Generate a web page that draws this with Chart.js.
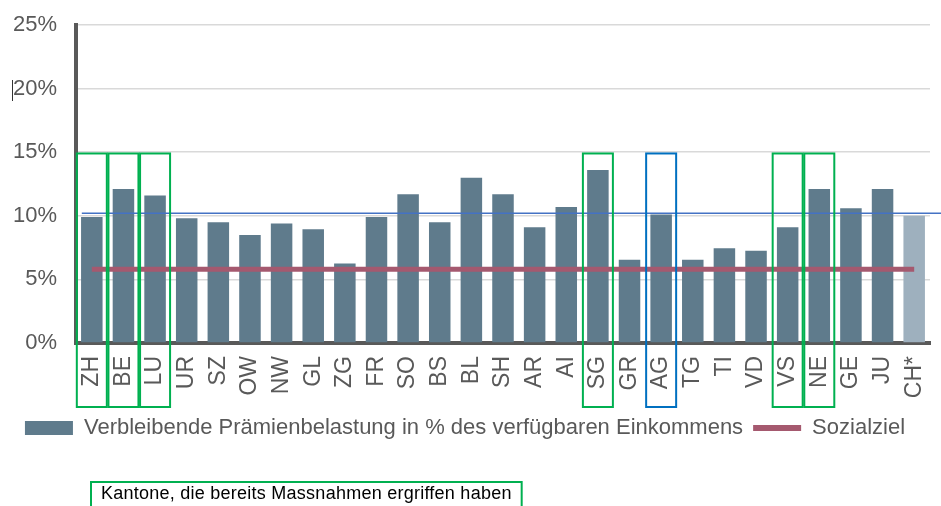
<!DOCTYPE html>
<html>
<head>
<meta charset="utf-8">
<script src="https://cdn.jsdelivr.net/npm/chart.js@4.4.0/dist/chart.umd.min.js"></script>
<style>
  html, body { margin: 0; padding: 0; background: #fff; }
  #wrap { width: 941px; height: 506px; }
</style>
</head>
<body>
<div id="wrap"><canvas id="bar-chart"></canvas></div>
<script>
// Kantone wie in der Grafik, CH* = Schweiz
const cantons = ['ZH','BE','LU','UR','SZ','OW','NW','GL','ZG','FR','SO','BS','BL','SH','AR','AI','SG','GR','AG','TG','TI','VD','VS','NE','GE','JU','CH*'];
// verbleibende Praemienbelastung in %
const burden = [9.9,12.1,11.6,9.8,9.5,8.5,9.4,8.95,6.25,9.9,11.7,9.5,13.0,11.7,9.1,10.7,13.6,6.55,10.1,6.55,7.45,7.25,9.1,12.1,10.6,12.1,10.0];
const socialGoal = 5.8;      // Sozialziel
const agLevel = 10.2;        // blaue Linie (Niveau AG)
const boxTop = 14.9;         // Oberkante der Markierungen
const yMax = 25;
const yStep = 5;
const greenBoxes = ['ZH','BE','LU','SG','VS','NE'];
const blueBoxes = ['AG'];
const legendBar = 'Verbleibende Prämienbelastung in % des verfügbaren Einkommens';
const legendLine = 'Sozialziel';
const noteText = 'Kantone, die bereits Massnahmen ergriffen haben';

const FONT = "Arial, 'Liberation Sans', sans-serif";
const GREY = '#595959';

var barColors = [];
for(i = 0; i < cantons.length; i++){
    barColors.push(cantons[i] == 'CH*' ? '#9eb0be' : '#5f7b8c');
}

const marks = {
    id: 'marks',
    afterDatasetsDraw(chart){
        const ctx = chart.ctx;
        const x = chart.scales.x;
        const y = chart.scales.y;
        ctx.save();
        // blue line, runs out to the right edge
        const ly = y.getPixelForValue(agLevel);
        ctx.strokeStyle = '#4472c4';
        ctx.lineWidth = 1.6;
        ctx.beginPath();
        ctx.moveTo(x.getPixelForValue(0) - 10, ly);
        ctx.lineTo(chart.width, ly);
        ctx.stroke();

        const top = y.getPixelForValue(boxTop);
        const bottom = chart.chartArea.bottom + 64;
        function box(name, color){
            const cx = x.getPixelForValue(cantons.indexOf(name));
            ctx.strokeStyle = color;
            ctx.lineWidth = 2;
            ctx.strokeRect(cx - 15, top, 30, bottom - top);
        }
        greenBoxes.forEach(n => box(n, '#00b050'));
        blueBoxes.forEach(n => box(n, '#0070c0'));
        ctx.restore();
    },
    afterDraw(chart){
        const ctx = chart.ctx;
        ctx.save();
        // note box below the legend
        ctx.font = '18px ' + FONT;
        ctx.letterSpacing = '0.25px';
        const w = ctx.measureText(noteText).width;
        ctx.strokeStyle = '#00b050';
        ctx.lineWidth = 2;
        ctx.strokeRect(91, 482, w + 20, 30);
        ctx.fillStyle = '#000';
        ctx.textBaseline = 'middle';
        ctx.fillText(noteText, 101, 494);
        // little cursor mark next to 20%
        ctx.strokeStyle = '#333';
        ctx.lineWidth = 1;
        ctx.beginPath();
        ctx.moveTo(12.5, 80);
        ctx.lineTo(12.5, 101);
        ctx.stroke();
        ctx.restore();
    }
};

new Chart(document.getElementById('bar-chart'), {
    type: 'bar',
    data: {
        labels: cantons,
        datasets: [
            {
                type: 'bar',
                label: legendBar,
                data: burden,
                backgroundColor: barColors,
                categoryPercentage: 1,
                barPercentage: 0.68,
                order: 1
            },
            {
                type: 'line',
                label: legendLine,
                data: cantons.map(() => socialGoal),
                borderColor: '#a5596f',
                backgroundColor: '#a5596f',
                borderWidth: 5,
                pointRadius: 0,
                pointStyle: 'line',
                order: 0
            }
        ]
    },
    options: {
        responsive: true,
        maintainAspectRatio: false,
        animation: false,
        layout: { padding: { left: 0, right: 11, top: 25, bottom: 57 } },
        scales: {
            x: {
                grid: { display: false, drawTicks: false },
                border: { color: GREY, width: 4 },
                ticks: {
                    color: GREY,
                    font: { family: FONT, size: 23 },
                    minRotation: 90,
                    maxRotation: 90,
                    autoSkip: false,
                    padding: 13
                },
                afterFit: function(scale){
                    scale.height = 64;
                    scale.paddingLeft = 0;
                    scale.paddingRight = 0;
                }
            },
            y: {
                min: 0,
                max: yMax,
                grid: { color: '#d9d9d9', lineWidth: 1.5, drawTicks: false },
                border: { color: GREY, width: 4 },
                ticks: {
                    stepSize: yStep,
                    color: GREY,
                    font: { family: FONT, size: 22 },
                    padding: 19,
                    callback: function(v){ return v + '%'; }
                },
                afterFit: function(scale){
                    scale.width = 76;
                    scale.paddingTop = 0;
                    scale.paddingBottom = 0;
                }
            }
        },
        plugins: {
            tooltip: { enabled: false },
            legend: {
                position: 'bottom',
                labels: {
                    color: GREY,
                    font: { family: FONT, size: 22 },
                    usePointStyle: true,
                    pointStyleWidth: 48,
                    boxWidth: 48,
                    boxHeight: 14,
                    padding: 10,
                    sort: (a, b) => a.datasetIndex - b.datasetIndex,
                    generateLabels: function(chart){
                        return chart.data.datasets.map((ds, i) => ({
                            text: ds.label,
                            datasetIndex: i,
                            fillStyle: i == 0 ? '#5f7b8c' : '#a5596f',
                            strokeStyle: i == 0 ? '#5f7b8c' : '#a5596f',
                            lineWidth: i == 0 ? 0 : 6,
                            pointStyle: i == 0 ? 'rect' : 'line',
                            fontColor: GREY,
                            hidden: false
                        }));
                    }
                }
            }
        }
    },
    plugins: [marks]
});
</script>
</body>
</html>
